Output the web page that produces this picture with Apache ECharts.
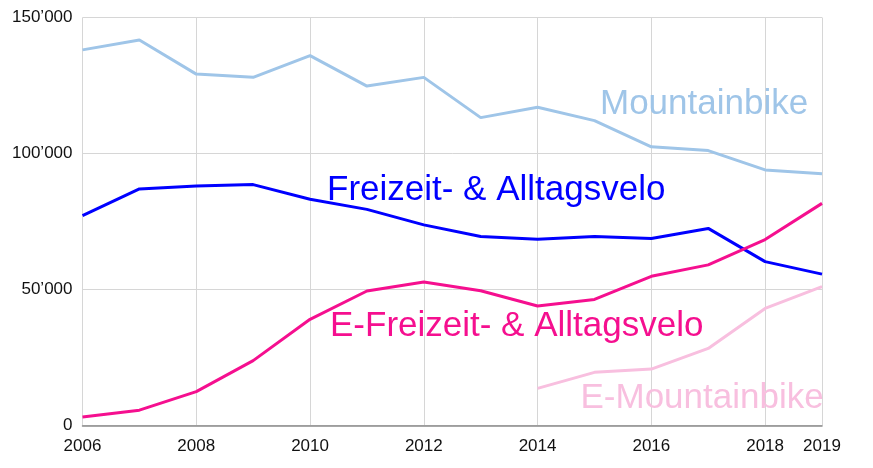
<!DOCTYPE html>
<html>
<head>
<meta charset="utf-8">
<script src="https://cdn.jsdelivr.net/npm/echarts@6/dist/echarts.min.js"></script>
<style>
html,body{margin:0;padding:0;background:#fff;}
#c{width:873px;height:468px;}
</style>
</head>
<body>
<div id="c"></div>
<script>
const years = [2006,2007,2008,2009,2010,2011,2012,2013,2014,2015,2016,2017,2018,2019];
const mountainbike = [138100,141700,129200,128000,136000,124800,128000,113200,117000,112100,102500,101100,94000,92600];
const freizeit = [77200,87000,88100,88600,83200,79500,73800,69500,68500,69500,68800,72500,60300,55700];
const eFreizeit = [3200,5700,12500,23900,39100,49500,52800,49600,44000,46400,54900,59100,68400,81700];
const eMountainbike = [null,null,null,null,null,null,null,null,13700,19600,20800,28400,43100,51100];
const seriesNames = ['Mountainbike','Freizeit- & Alltagsvelo','E-Freizeit- & Alltagsvelo','E-Mountainbike'];
const colors = ['#9fc5e8','#0000ff','#f50f8f','#f8bfdf'];
const yTicks = [0,50000,100000,150000];

function pairs(vals){ return years.map((y,i)=>[y, vals[i]]); }
const allVals = [mountainbike, freizeit, eFreizeit, eMountainbike];

const chart = echarts.init(document.getElementById('c'), null, {renderer:'canvas'});
const font = 'Liberation Sans, Arial, sans-serif';
function fmtY(v){
  if (v === 0) return '0';
  const s = String(Math.round(v));
  return s.slice(0, s.length-3) + '\u2019' + s.slice(-3);
}
const labelPos = [
  {x:600, y:106.5},
  {x:327, y:193},
  {x:330, y:329},
  {x:580.5, y:401}
];
chart.setOption({
  animation:false,
  grid:{left:82.5, right:51, top:17.5, bottom:42.3, containLabel:false},
  xAxis:{
    type:'value', min:years[0], max:years[years.length-1], interval:2,
    axisLine:{show:true, onZero:false, lineStyle:{color:'#8a8a8a', width:1.5}},
    axisTick:{show:false},
    axisLabel:{color:'#111', fontSize:17, fontFamily:font, margin:12, formatter:v=>String(v), showMaxLabel:true, showMinLabel:true},
    splitLine:{show:true, lineStyle:{color:'#d6d6d6', width:1}}
  },
  yAxis:{
    type:'value', min:yTicks[0], max:yTicks[yTicks.length-1], interval:50000,
    axisLine:{show:false}, axisTick:{show:false},
    axisLabel:{color:'#111', fontSize:17, fontFamily:font, margin:10, formatter:fmtY},
    splitLine:{show:true, lineStyle:{color:'#d6d6d6', width:1}}
  },
  series: allVals.map((vals,i)=>({
    name: seriesNames[i], type:'line', data: pairs(vals), symbol:'none',
    connectNulls:false, lineStyle:{color:colors[i], width:3}, itemStyle:{color:colors[i]},
    z: 3
  })),
  graphic: seriesNames.map((n,i)=>({
    type:'text', left:labelPos[i].x, top:labelPos[i].y - 20, z:1,
    style:{text:n, fill:colors[i], font:'35px ' + font, verticalAlign:'top'}
  }))
});
</script>
</body>
</html>
